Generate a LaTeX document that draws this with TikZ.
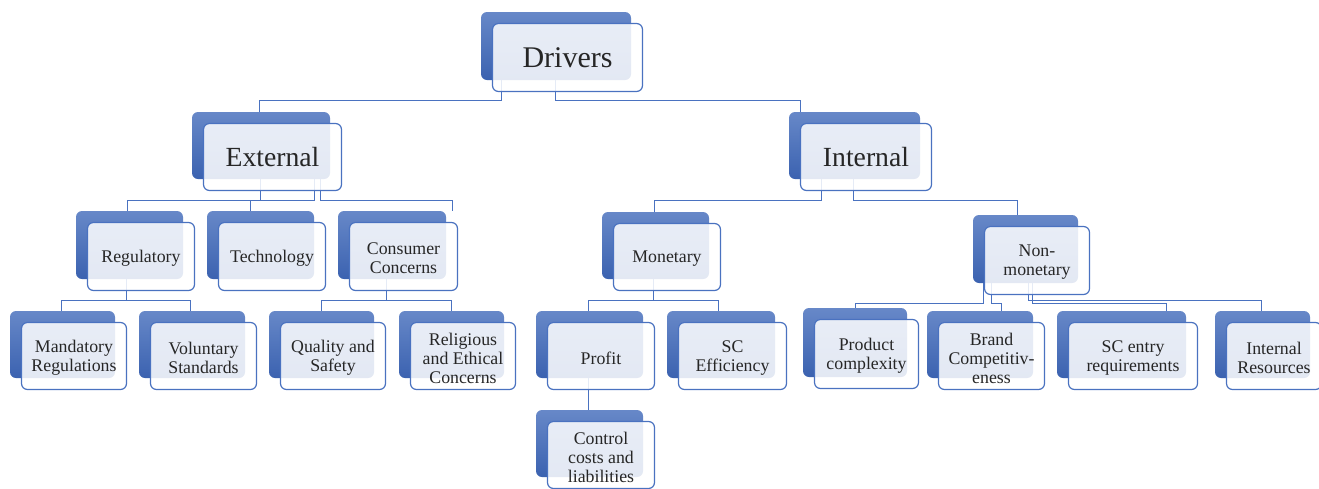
\documentclass[tikz,border=0pt]{standalone}
\usepackage{fontspec}
\setmainfont{Liberation Serif}
\usetikzlibrary{calc}
\pgfdeclarelayer{bg}
\pgfdeclarelayer{paper}
\pgfsetlayers{paper,bg,main}
\definecolor{btop}{HTML}{6788C8}
\definecolor{bbot}{HTML}{3B62B0}
\definecolor{lineblue}{HTML}{4A72C0}
\definecolor{txt}{HTML}{262626}
\tikzset{
 backbox/.style={rounded corners=6pt, top color=btop, bottom color=bbot, draw=none, inner sep=0pt},
 frontbox/.style={rounded corners=6pt, draw=lineblue, line width=1.2pt, fill=white, fill opacity=0.86, inner sep=0pt},
 label text/.style={text=txt, align=center, inner sep=0pt},
 conn/.style={draw=lineblue, line width=1.3pt},
 lvlA/.style={font=\fontsize{30}{32}\selectfont},
 lvlB/.style={font=\fontsize{27.7}{30}\selectfont},
 lvlC/.style={font=\fontsize{17.8}{19}\selectfont, yshift=-2pt},
}
\newcommand\dbox[7]{%
 \begin{pgfonlayer}{bg}
 \node[backbox, minimum width={(#4-#2)*1pt}, minimum height={(#5-#3)*1pt}] (#1B) at ({(#2+#4)/2},{(#3+#5)/2}) {};
 \end{pgfonlayer}
 \node[frontbox, minimum width={(#4-#2)*1pt}, minimum height={(#5-#3)*1pt}] (#1) at ([shift={(11.5,11.5)}]#1B.center) {};
 \node[label text,#7] (#1T) at (#1.center) {#6};
}
\begin{document}
\begin{tikzpicture}[x=1pt,y=-1pt]
\begin{pgfonlayer}{paper}
\fill[white] (0,0) rectangle (1319,488);
\end{pgfonlayer}
\useasboundingbox (0,0) rectangle (1319,488);

\dbox{drv}{481}{12}{631}{80}{Drivers}{lvlA}
\dbox{ext}{192}{112}{330}{179}{External}{lvlB}
\dbox{int}{789}{112}{920}{179}{Internal}{lvlB}
\dbox{reg}{76}{211}{183}{279}{Regulatory}{lvlC}
\dbox{tec}{207}{211}{314}{279}{Technology}{lvlC}
\dbox{con}{338}{211}{446}{279}{Consumer\\Concerns}{lvlC}
\dbox{mon}{602}{212}{709}{279}{Monetary}{lvlC}
\dbox{non}{973}{215}{1078}{283}{Non-\\monetary}{lvlC}
\dbox{man}{10}{311}{115}{378}{Mandatory\\Regulations}{lvlC}
\dbox{vol}{139}{311}{245}{378}{Voluntary\\Standards}{lvlC}
\dbox{qua}{269}{311}{374}{378}{Quality and\\Safety}{lvlC}
\dbox{rel}{399}{311}{504}{378}{Religious\\and Ethical\\Concerns}{lvlC}
\dbox{pro}{536}{311}{643}{378}{Profit}{lvlC}
\dbox{sce}{667}{311}{775}{378}{SC\\Efficiency}{lvlC}
\dbox{ctl}{536}{410}{643}{477}{Control\\costs and\\liabilities}{lvlC}
\dbox{prd}{803}{308}{907}{377}{Product\\complexity}{lvlC}
\dbox{brd}{927}{311}{1033}{378}{Brand\\Competitiv-\\eness}{lvlC}
\dbox{sen}{1057}{311}{1186}{378}{SC entry\\requirements}{lvlC}
\dbox{irs}{1215}{311}{1310}{378}{Internal\\Resources}{lvlC}

\begin{pgfonlayer}{bg}
\draw[conn] ([xshift=21]drvB.south west) -- ++(0,20) -| ([xshift=68]extB.north west);
\draw[conn] ([xshift=75]drvB.south west) -- ++(0,20) -| ([xshift=12]intB.north west);
\draw[conn] ([xshift=69]extB.south west) -- ++(0,21) -| ([xshift=52]regB.north west);
\draw[conn] ([xshift=123]extB.south west) -- ++(0,21) -| ([xshift=44]tecB.north west);
\draw[conn] ([xshift=129]extB.south west) -- ++(0,21) -| ([xshift=115]conB.north west);
\draw[conn] ([xshift=33]intB.south west) -- ++(0,21) -| ([xshift=53]monB.north west);
\draw[conn] ([xshift=65]intB.south west) -- ++(0,21) -| ([xshift=45]nonB.north west);
\draw[conn] ([xshift=51]regB.south west) -- ++(0,21) -| ([xshift=52]manB.north west);
\draw[conn] ([xshift=51]regB.south west) -- ++(0,21) -| ([xshift=52]volB.north west);
\draw[conn] ([xshift=49]conB.south west) -- ++(0,21) -| ([xshift=53]quaB.north west);
\draw[conn] ([xshift=49]conB.south west) -- ++(0,21) -| ([xshift=53]relB.north west);
\draw[conn] ([xshift=52]monB.south west) -- ++(0,21) -| ([xshift=53]proB.north west);
\draw[conn] ([xshift=52]monB.south west) -- ++(0,21) -| ([xshift=52]sceB.north west);
\draw[conn] ([xshift=53]proB.south west) -- ([xshift=53]ctlB.north west);
\draw[conn] ([xshift=11]nonB.south west) -- ++(0,20) -| ([xshift=53]prdB.north west);
\draw[conn] ([xshift=19]nonB.south west) -- ++(0,20) -| ([xshift=75]brdB.north west);
\draw[conn] ([xshift=56]nonB.south west) -- ++(0,17) -| ([xshift=47]irsB.north west);
\draw[conn] ([xshift=60]nonB.south west) -- ++(0,20) -| ([xshift=110]senB.north west);
\end{pgfonlayer}
\end{tikzpicture}
\end{document}
